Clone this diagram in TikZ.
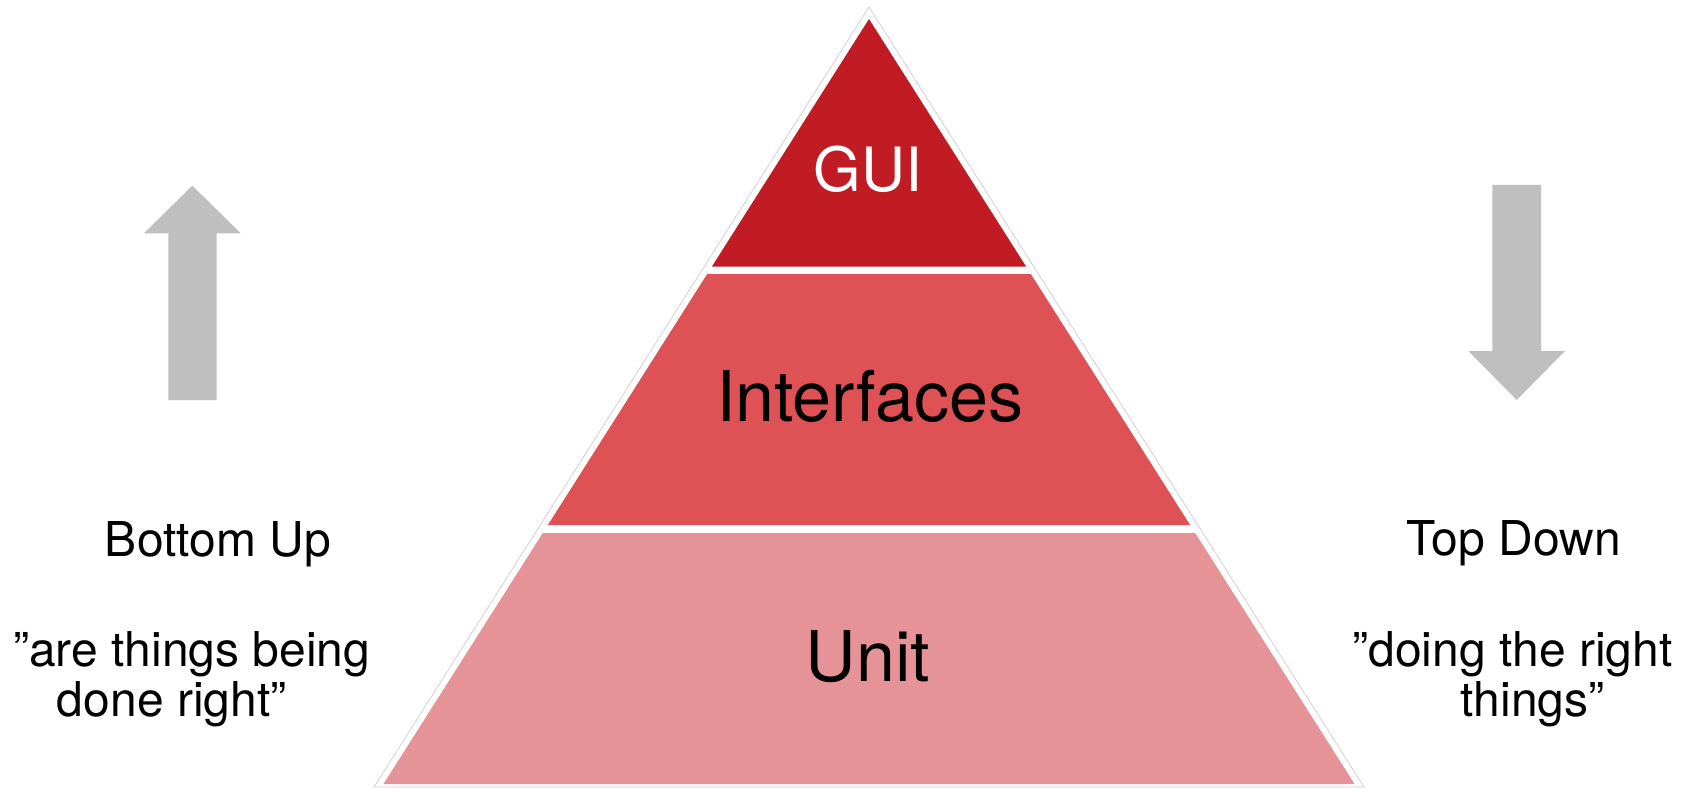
\documentclass[tikz,border=0pt]{standalone}
\usepackage{fontspec}
\setmainfont{TeX Gyre Heros}
\definecolor{guired}{RGB}{193,27,35}
\definecolor{ifred}{RGB}{222,82,86}
\definecolor{unitred}{RGB}{229,147,150}
\definecolor{arrowgray}{RGB}{191,191,191}
\definecolor{edgegray}{RGB}{205,205,205}
\tikzset{
  layertext/.style={anchor=base,inner sep=0pt,font=\fontsize{70}{84}\selectfont},
  sidetext/.style={anchor=base,inner sep=0pt,font=\fontsize{48}{50}\selectfont},
  bigarrow/.style={fill=arrowgray,draw=none},
}
\begin{document}
\begin{tikzpicture}[x=1pt,y=-1pt]
\useasboundingbox (0,0) rectangle (1698,789);
\fill[white] (0,0) rectangle (1698,789);
% outer white pyramid with faint outline
\draw[edgegray,line width=0.7pt,fill=white,line join=round] (869,7) -- (1364,787) -- (374,787) -- cycle;
% layers
\fill[guired] (869,19) -- (1026.2,266.7) -- (711.8,266.7) -- cycle;
\fill[ifred] (707.2,274) -- (1030.8,274) -- (1190.1,525) -- (547.9,525) -- cycle;
\fill[unitred] (542.8,533) -- (1195.2,533) -- (1354.5,784) -- (383.5,784) -- cycle;
% layer labels
\node[layertext,text=white,font=\fontsize{61}{73}\selectfont] (gui) at (868,192) {GUI};
\node[layertext] (interfaces) at (869.7,421.7) {Interfaces};
\node[layertext] (unit) at (868,681.7) {Unit};
% arrows
\fill[bigarrow] (192.3,185.7) -- (240.7,233.3) -- (216.7,233.3) -- (216.7,400) -- (168.3,400) -- (168.3,233.3) -- (144,233.3) -- cycle;
\fill[bigarrow] (1492.3,185) -- (1541,185) -- (1541,351) -- (1565,351) -- (1516.7,400) -- (1468.3,351) -- (1492.3,351) -- cycle;
% side texts
\node[sidetext] (bu) at (218,556) {Bottom Up};
\node[sidetext] (bu1) at (191.7,666.7) {”are things being};
\node[sidetext] (bu2) at (171.7,716.7) {done right”};
\node[sidetext] (td) at (1513.7,555) {Top Down};
\node[sidetext] (td1) at (1512.5,666.7) {”doing the right};
\node[sidetext] (td2) at (1532.5,716.7) {things”};
\end{tikzpicture}
\end{document}
